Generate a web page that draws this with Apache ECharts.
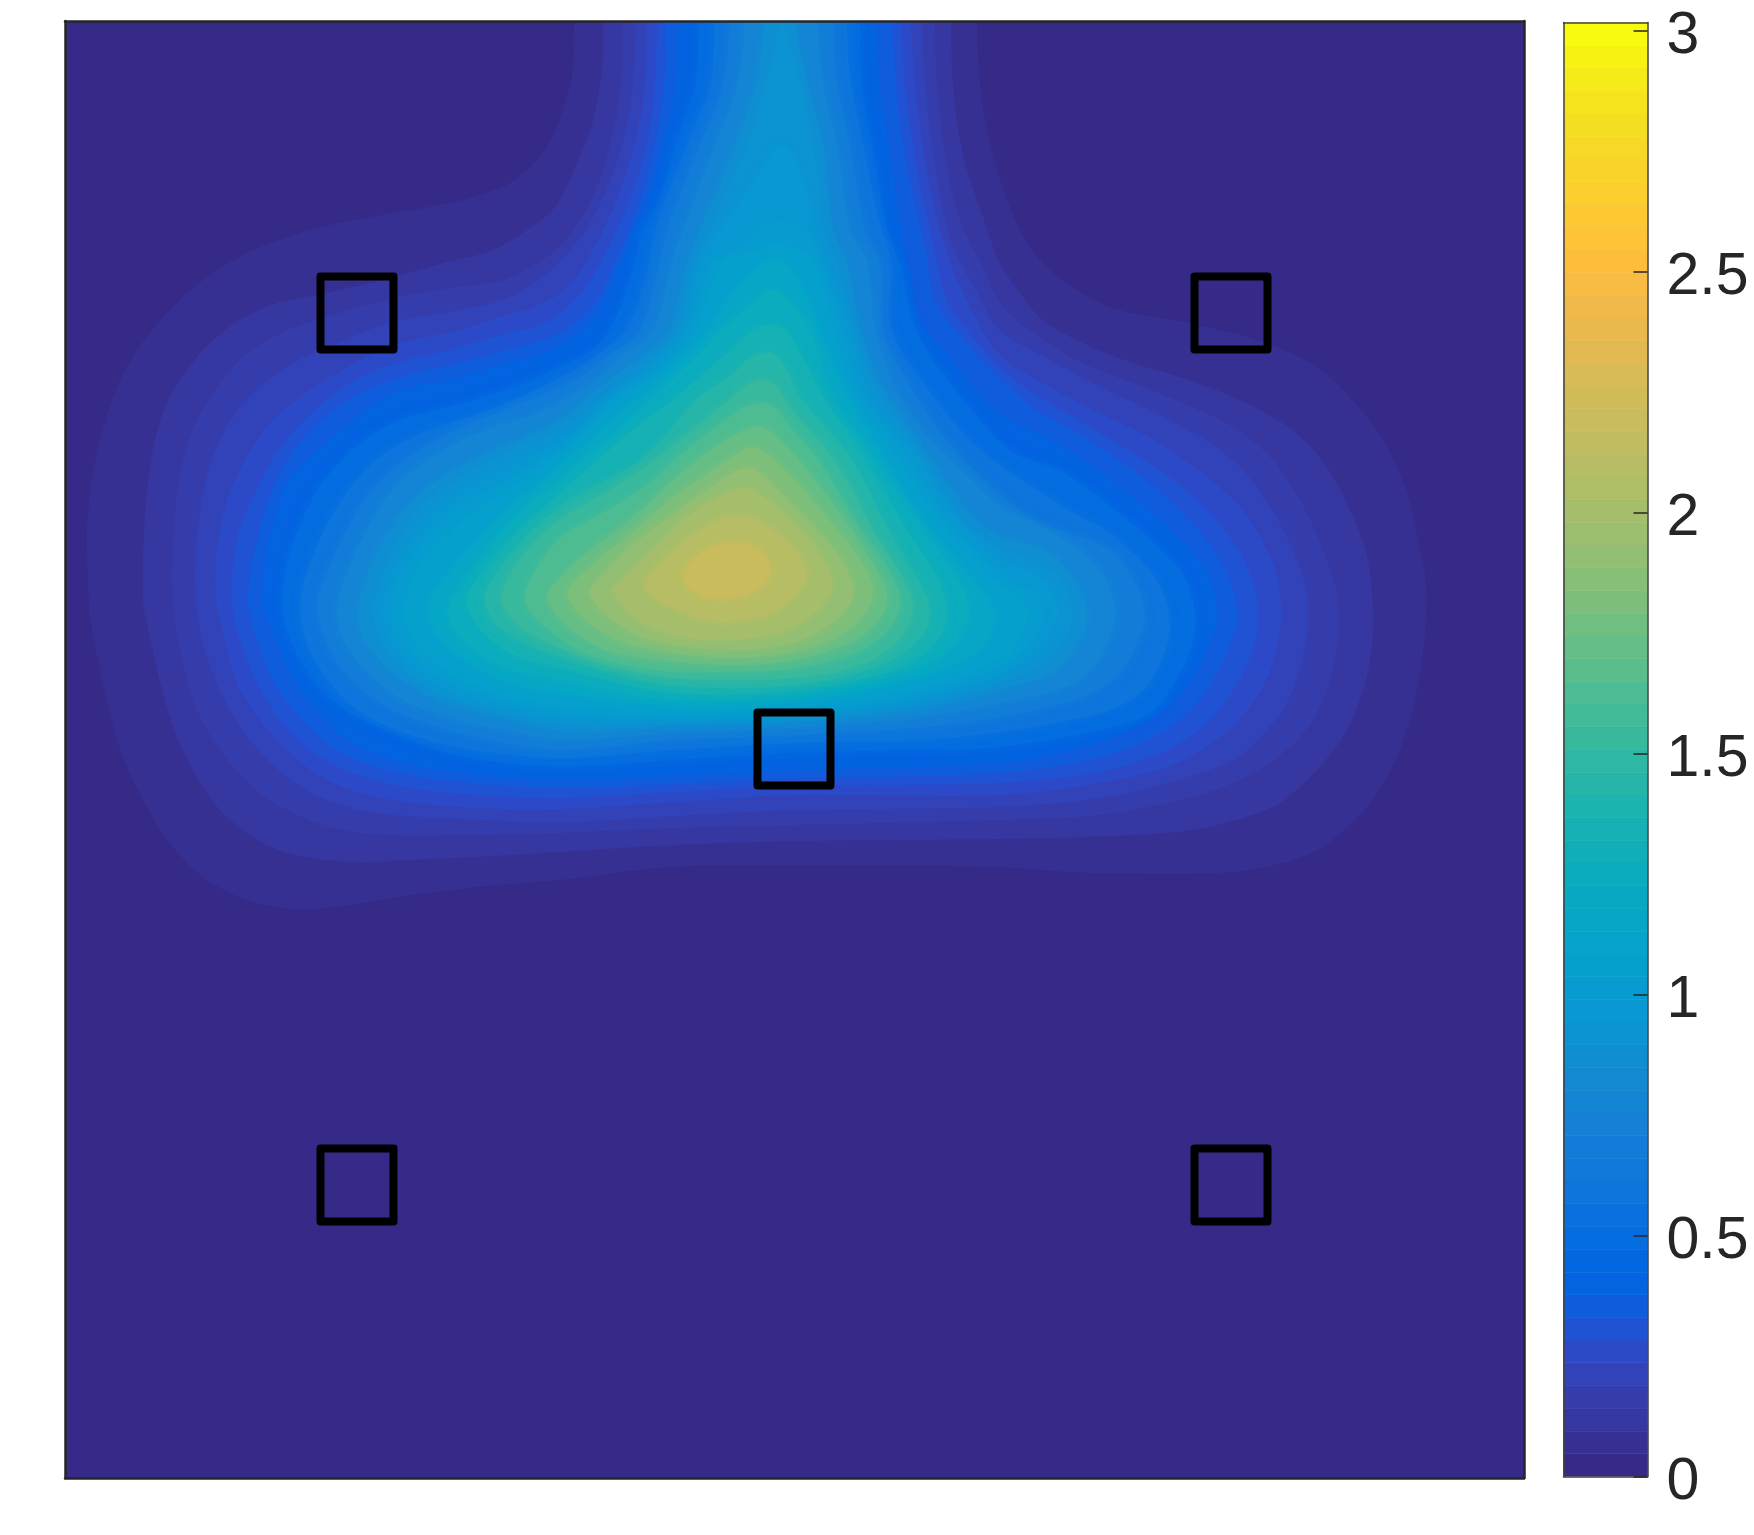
<!DOCTYPE html>
<html>
<head>
<meta charset="utf-8">
<style>html,body{margin:0;padding:0;background:#fff}#c{width:1754px;height:1535px}</style>
<script src="https://cdn.jsdelivr.net/npm/echarts@6/dist/echarts.min.js"></script>
</head>
<body>
<div id="c"></div>
<script>
// colour table of the colour bar (64 bands, bottom to top)
const palette = [[0.2081,0.1663,0.5292],[0.2116,0.1898,0.5777],[0.2123,0.2138,0.627],[0.2081,0.2386,0.6771],[0.1959,0.2645,0.7279],[0.1707,0.2919,0.7792],[0.1253,0.3242,0.8303],[0.0591,0.3598,0.8683],[0.0117,0.3875,0.882],[0.006,0.4086,0.8828],[0.0165,0.4266,0.8786],[0.0329,0.443,0.872],[0.0498,0.4586,0.8641],[0.0629,0.4737,0.8554],[0.0723,0.4887,0.8467],[0.0779,0.504,0.8384],[0.0793,0.52,0.8312],[0.0749,0.5375,0.8263],[0.0641,0.557,0.824],[0.0488,0.5772,0.8228],[0.0343,0.5966,0.8199],[0.0265,0.6137,0.8135],[0.0239,0.6287,0.8038],[0.0231,0.6418,0.7913],[0.0228,0.6535,0.7768],[0.0267,0.6642,0.7607],[0.0384,0.6743,0.7436],[0.059,0.6838,0.7254],[0.0843,0.6928,0.7062],[0.1133,0.7015,0.6859],[0.1453,0.7098,0.6646],[0.1801,0.7177,0.6424],[0.2178,0.725,0.6193],[0.2586,0.7317,0.5954],[0.3022,0.7376,0.5712],[0.3482,0.7424,0.5473],[0.3953,0.7459,0.5244],[0.442,0.7481,0.5033],[0.4871,0.7491,0.484],[0.53,0.7491,0.4661],[0.5709,0.7485,0.4494],[0.6099,0.7473,0.4337],[0.6473,0.7456,0.4188],[0.6834,0.7435,0.4044],[0.7184,0.7411,0.3905],[0.7525,0.7384,0.3768],[0.7858,0.7356,0.3633],[0.8185,0.7327,0.3498],[0.8507,0.7299,0.336],[0.8824,0.7274,0.3217],[0.9139,0.7258,0.3063],[0.945,0.7261,0.2886],[0.9739,0.7314,0.2666],[0.9938,0.7455,0.2403],[0.999,0.7653,0.2164],[0.9955,0.7861,0.1967],[0.988,0.8066,0.1794],[0.9789,0.8271,0.1633],[0.9697,0.8481,0.1475],[0.9626,0.8705,0.1309],[0.9589,0.8949,0.1132],[0.9598,0.9218,0.0948],[0.9661,0.9514,0.0755],[0.9763,0.9831,0.0538]];
const bandEdges = [0,.047,.094,.141,.189,.236,.283,.330,.377,.424,.471,.519,.566,.613,.660,.707,.754,.801,.849,.896,.943,.990,1.037,1.084,1.131,1.179,1.226,1.273,1.320,1.367,1.414,1.461,1.509,1.556,1.603,1.650,1.697,1.744,1.791,1.839,1.886,1.933,1.980,2.027,2.074,2.121,2.169,2.216,2.263,2.310,2.357,2.404,2.451,2.499,2.546,2.593,2.640,2.687,2.734,2.781,2.829,2.876,2.923,2.970,3.017];
const colorbarTicks = [0,0.5,1,1.5,2,2.5,3];

// square outlines on the field
const squareX = [292,1166,729,292,1166];
const squareY = [1165,1165,729,293,293];

// filled contours, one outline per colour band
const contour1 = [[509,1500],[509,1457],[508,1409],[500,1375],[487,1340],[470,1316],[445,1295],[415,1283],[380,1274],[328,1265],[278,1256],[228,1243],[182,1225],[138,1198],[102,1165],[72,1128],[52,1091],[35,1038],[25,985],[22,945],[23,895],[25,861],[38,795],[58,721],[82,671],[108,631],[142,598],[182,578],[228,569],[262,570],[328,580],[412,591],[495,598],[606,611],[740,613],[935,611],[1002,606],[1085,604],[1168,606],[1222,616],[1256,630],[1288,656],[1312,685],[1335,728],[1352,788],[1360,845],[1361,895],[1355,928],[1342,985],[1318,1038],[1285,1081],[1252,1111],[1212,1131],[1168,1145],[1118,1156],[1078,1163],[1045,1171],[1012,1188],[985,1208],[962,1235],[942,1278],[924,1340],[915,1392],[912,1457],[912,1500]];
const contour2 = [[538,1500],[538,1457],[537,1409],[528,1357],[511,1313],[490,1271],[462,1248],[428,1228],[378,1215],[328,1201],[262,1185],[212,1175],[178,1160],[145,1135],[122,1108],[102,1075],[90,1038],[83,995],[79,945],[78,878],[83,851],[95,795],[112,741],[135,695],[162,661],[202,633],[245,620],[295,616],[345,618],[412,621],[495,626],[610,633],[740,637],[935,639],[1018,641],[1102,645],[1152,653],[1208,671],[1235,691],[1258,715],[1278,741],[1295,778],[1305,818],[1308,861],[1303,918],[1288,961],[1268,1001],[1242,1035],[1208,1061],[1168,1081],[1118,1100],[1068,1115],[1018,1135],[978,1158],[955,1185],[935,1215],[917,1264],[898,1323],[888,1392],[886,1457],[886,1500]];
const contour3 = [[557,1500],[557,1457],[556,1392],[545,1333],[528,1282],[500,1237],[469,1213],[435,1197],[385,1190],[335,1181],[260,1161],[212,1143],[178,1121],[152,1091],[132,1058],[120,1025],[112,985],[108,928],[108,878],[115,828],[132,768],[155,728],[188,691],[228,665],[278,648],[328,643],[412,643],[495,645],[610,650],[730,653],[935,658],[1035,663],[1102,675],[1168,695],[1218,725],[1252,765],[1272,828],[1272,885],[1258,928],[1235,978],[1205,1021],[1168,1051],[1118,1075],[1068,1095],[1018,1115],[968,1145],[935,1175],[917,1213],[896,1254],[883,1306],[872,1392],[870,1457],[870,1500]];
const contour4 = [[571,1500],[571,1457],[568,1392],[559,1340],[542,1289],[518,1244],[487,1209],[445,1181],[395,1168],[325,1155],[268,1133],[228,1115],[195,1091],[168,1061],[148,1021],[137,978],[131,928],[131,878],[138,835],[158,781],[185,738],[222,701],[262,678],[312,665],[378,660],[495,656],[610,662],[730,668],[935,671],[1035,680],[1102,695],[1168,718],[1202,748],[1228,788],[1242,845],[1242,885],[1228,928],[1205,971],[1175,1011],[1135,1041],[1085,1068],[1035,1091],[985,1118],[935,1148],[910,1189],[886,1237],[872,1299],[860,1392],[857,1457],[857,1500]];
const contour5 = [[582,1500],[582,1457],[580,1392],[570,1335],[549,1271],[521,1216],[500,1188],[470,1172],[435,1161],[395,1148],[335,1135],[295,1118],[245,1088],[208,1058],[182,1021],[162,978],[152,928],[151,878],[158,845],[172,795],[195,758],[225,725],[262,698],[312,681],[395,671],[495,669],[610,676],[730,683],[935,683],[1035,695],[1102,711],[1152,738],[1185,771],[1208,815],[1216,861],[1212,901],[1202,928],[1178,968],[1142,1001],[1095,1035],[1035,1065],[985,1091],[935,1123],[896,1189],[876,1244],[862,1306],[850,1392],[846,1457],[846,1500]];
const contour6 = [[592,1500],[592,1457],[590,1392],[581,1330],[562,1271],[538,1220],[514,1182],[480,1155],[435,1143],[385,1128],[335,1116],[290,1098],[250,1068],[215,1030],[190,985],[172,938],[167,878],[175,838],[192,795],[215,758],[245,728],[288,705],[345,690],[412,683],[495,680],[610,686],[730,692],[935,695],[1035,706],[1102,728],[1142,755],[1168,788],[1188,828],[1193,861],[1188,895],[1175,925],[1148,961],[1108,998],[1058,1031],[1002,1065],[952,1096],[886,1170],[869,1230],[852,1306],[840,1392],[836,1457],[836,1500]];
const contour7 = [[601,1500],[601,1457],[599,1392],[590,1333],[573,1271],[552,1220],[530,1175],[495,1145],[435,1126],[385,1113],[335,1101],[290,1082],[245,1048],[215,1005],[195,950],[183,878],[192,838],[208,798],[235,761],[268,731],[312,711],[378,698],[495,690],[610,694],[730,700],[935,705],[1035,721],[1095,745],[1128,771],[1155,811],[1172,858],[1165,898],[1148,928],[1115,968],[1068,1008],[1012,1045],[958,1078],[874,1170],[860,1230],[843,1306],[831,1392],[828,1457],[828,1500]];
const contour8 = [[612,1500],[612,1457],[610,1392],[598,1333],[580,1271],[568,1248],[556,1215],[532,1165],[505,1140],[470,1122],[435,1113],[385,1098],[335,1088],[290,1060],[250,1025],[222,995],[205,945],[198,895],[198,870],[208,845],[225,805],[248,771],[282,738],[328,718],[395,705],[495,698],[610,702],[730,708],[935,715],[1018,731],[1085,758],[1122,791],[1142,828],[1152,861],[1145,901],[1128,925],[1092,961],[1042,1001],[992,1035],[935,1065],[885,1120],[855,1160],[843,1215],[830,1290],[815,1392],[812,1457],[812,1500]];
const contour10 = [[634,1500],[634,1457],[630,1392],[610,1333],[595,1280],[578,1248],[570,1215],[553,1165],[530,1130],[495,1112],[465,1098],[400,1075],[335,1058],[295,1035],[265,1005],[245,975],[225,925],[217,878],[223,845],[240,810],[270,775],[320,748],[395,722],[495,711],[610,718],[730,725],[850,728],[935,731],[1035,748],[1085,765],[1112,800],[1128,835],[1130,865],[1120,900],[1100,925],[1060,960],[1000,1005],[945,1028],[885,1095],[850,1150],[835,1215],[822,1248],[810,1320],[797,1392],[795,1457],[795,1500]];
const contour12 = [[650,1500],[650,1457],[645,1392],[622,1333],[590,1248],[584,1215],[565,1155],[535,1125],[490,1098],[430,1070],[370,1050],[320,1025],[285,990],[258,945],[240,900],[235,870],[240,840],[258,805],[290,770],[340,745],[410,728],[495,720],[610,728],[730,735],[850,738],[935,746],[1035,765],[1075,785],[1095,815],[1105,850],[1098,885],[1078,915],[1040,948],[1015,961],[915,1028],[858,1095],[827,1148],[826,1215],[812,1265],[798,1333],[785,1400],[782,1457],[782,1500]];
const contour14 = [[665,1500],[665,1457],[658,1392],[635,1333],[602,1248],[595,1215],[575,1148],[540,1120],[510,1098],[450,1072],[385,1045],[340,1018],[305,985],[278,940],[260,900],[252,875],[258,845],[275,812],[310,778],[360,755],[425,738],[495,728],[610,738],[730,743],[850,750],[935,761],[1020,782],[1055,805],[1072,835],[1080,862],[1070,895],[1045,928],[965,961],[890,1028],[843,1095],[818,1148],[815,1215],[800,1248],[785,1333],[772,1395],[768,1457],[768,1500]];
const contour16 = [[680,1500],[680,1457],[672,1392],[650,1333],[618,1248],[607,1215],[588,1148],[555,1120],[530,1098],[480,1068],[420,1048],[365,1020],[325,985],[298,940],[280,900],[272,868],[278,840],[300,808],[335,780],[385,760],[440,748],[495,738],[610,745],[730,750],[850,760],[935,775],[1010,795],[1035,820],[1048,850],[1050,868],[1040,900],[1015,928],[975,952],[935,972],[900,1005],[875,1028],[845,1065],[828,1095],[810,1148],[802,1215],[785,1248],[772,1333],[758,1395],[752,1457],[752,1500]];
const contour18 = [[700,1500],[700,1457],[690,1392],[670,1333],[635,1248],[622,1215],[605,1148],[575,1120],[545,1098],[495,1058],[460,1042],[395,1012],[350,980],[320,940],[300,895],[293,860],[305,830],[335,800],[380,775],[440,760],[495,748],[610,752],[730,756],[850,768],[935,788],[985,805],[1010,830],[1022,860],[1012,893],[985,925],[935,942],[908,961],[860,1028],[815,1095],[795,1148],[782,1215],[768,1248],[758,1333],[742,1395],[730,1457],[730,1500]];
const contour19 = [[716,1456],[708,1420],[695,1375],[683,1333],[645,1248],[630,1215],[612,1148],[585,1120],[555,1095],[495,1050],[450,1030],[395,1000],[355,970],[328,930],[310,885],[307,865],[318,830],[348,800],[395,776],[495,754],[610,755],[730,760],[850,773],[935,795],[978,815],[1000,840],[1008,865],[996,897],[972,915],[935,930],[895,961],[852,1028],[808,1095],[790,1148],[772,1215],[760,1248],[748,1333],[735,1395],[722,1444]];
const contour20 = [[716,1333],[705,1322],[682,1285],[655,1248],[635,1215],[618,1148],[590,1115],[570,1098],[540,1075],[505,1045],[445,1012],[395,985],[360,955],[335,920],[320,885],[317,860],[330,830],[360,800],[410,778],[450,768],[495,760],[610,758],[730,763],[850,778],[935,803],[970,825],[990,855],[993,868],[980,895],[960,908],[935,918],[890,961],[848,1028],[805,1081],[785,1148],[762,1215],[750,1248],[738,1300],[726,1326]];
const contour21 = [[715,1256],[695,1248],[665,1225],[646,1215],[624,1148],[595,1110],[548,1081],[510,1040],[450,1003],[395,970],[358,935],[335,900],[328,860],[342,830],[372,802],[420,782],[495,766],[610,761],[730,766],[850,783],[935,810],[962,832],[976,860],[970,885],[948,895],[935,905],[880,961],[838,1028],[797,1081],[778,1148],[755,1215],[738,1248]];
const contour22 = [[712,1233],[692,1226],[657,1215],[630,1148],[600,1112],[558,1081],[520,1048],[495,1025],[445,990],[395,955],[355,915],[340,875],[340,860],[355,830],[385,805],[430,785],[495,772],[610,765],[730,770],[850,788],[935,818],[955,840],[962,868],[955,880],[935,893],[872,961],[828,1028],[790,1081],[770,1148],[748,1215],[730,1229]];
const contour24 = [[708,1218],[690,1208],[665,1180],[643,1148],[610,1112],[575,1081],[535,1048],[495,1012],[450,975],[410,935],[378,898],[363,870],[375,840],[405,815],[445,795],[495,785],[610,772],[730,776],[850,800],[910,825],[930,860],[915,890],[855,961],[815,1028],[782,1081],[755,1148],[740,1185],[725,1210]];
const contour26 = [[706,1188],[690,1178],[657,1148],[625,1115],[590,1081],[552,1048],[495,1000],[450,962],[415,920],[390,885],[383,868],[395,840],[430,815],[495,797],[610,778],[730,783],[850,808],[890,835],[905,868],[895,895],[860,945],[805,1028],[768,1081],[745,1148],[735,1165],[720,1182]];
const contour28 = [[705,1153],[688,1148],[668,1130],[612,1081],[568,1048],[495,985],[455,950],[420,910],[402,878],[415,850],[445,825],[495,810],[610,785],[730,788],[830,808],[870,835],[882,865],[872,900],[840,950],[795,1028],[758,1081],[735,1125],[720,1148]];
const contour30 = [[703,1126],[685,1120],[665,1102],[635,1081],[578,1020],[530,992],[495,972],[455,935],[425,895],[420,875],[435,850],[470,830],[530,810],[610,792],[730,793],[815,812],[855,840],[865,868],[852,900],[825,945],[785,1020],[735,1081],[722,1108],[712,1122]];
const contour32 = [[700,1098],[682,1093],[668,1081],[592,1020],[540,985],[495,958],[460,925],[437,880],[455,852],[490,832],[545,812],[610,800],[730,800],[800,815],[835,840],[848,870],[838,900],[810,945],[768,1020],[725,1070],[712,1091]];
const contour34 = [[696,1075],[675,1068],[612,1020],[589,998],[555,975],[525,958],[495,940],[472,910],[460,878],[480,852],[520,825],[590,808],[658,806],[735,810],[790,825],[825,850],[835,878],[820,915],[795,950],[752,1020],[725,1050],[710,1070]];
const contour36 = [[692,1051],[670,1043],[635,1020],[602,992],[565,958],[525,928],[495,900],[482,880],[505,850],[550,825],[658,813],[730,818],[785,835],[815,860],[822,885],[805,920],[780,958],[732,1020],[715,1038],[703,1048]];
const contour38 = [[686,1031],[668,1022],[640,1003],[605,978],[570,948],[530,915],[503,885],[525,855],[568,832],[658,820],[725,825],[770,840],[800,865],[808,890],[790,925],[762,960],[735,992],[712,1016],[698,1027]];
const contour40 = [[682,1010],[662,1002],[642,988],[610,965],[570,935],[540,905],[525,885],[545,860],[585,838],[658,828],[720,833],[760,850],[785,875],[788,893],[772,925],[745,955],[720,980],[702,998],[692,1007]];
const contour42 = [[678,990],[652,980],[625,963],[590,930],[560,900],[548,888],[570,860],[608,843],[658,838],[715,845],[750,865],[768,893],[752,928],[725,958],[700,980],[688,987]];
const contour44 = [[672,963],[638,950],[605,925],[580,891],[612,868],[658,856],[712,868],[742,905],[712,945]];
const contour46 = [[668,936],[635,925],[618,901],[632,885],[658,879],[692,888],[706,908],[695,928]];

const contourBands = [1,2,3,4,5,6,7,8,10,12,14,16,18,19,20,21,22,24,26,28,30,32,34,36,38,40,42,44,46];
const contourLines = [contour1,contour2,contour3,contour4,contour5,contour6,contour7,contour8,contour10,contour12,contour14,contour16,contour18,contour19,contour20,contour21,contour22,contour24,contour26,contour28,contour30,contour32,contour34,contour36,contour38,contour40,contour42,contour44,contour46];

const rgb = c => 'rgb(' + c.map(v => Math.round(v * 255)).join(',') + ')';
const ink = '#262626';
const frame = (extra) => Object.assign({
  type: 'value', splitLine: {show: false}, axisTick: {show: false}, axisLabel: {show: false},
  axisLine: {show: true, onZero: false, lineStyle: {color: ink, width: 2.5}}, z: 10
}, extra);
const barLine = {show: true, onZero: false, lineStyle: {color: '#404040', width: 1.5}};

const chart = echarts.init(document.getElementById('c'), null, {renderer: 'canvas'});
chart.setOption({
  animation: false,
  backgroundColor: '#ffffff',
  grid: [
    {left: 65, top: 21, width: 1459, height: 1457, show: true, backgroundColor: rgb(palette[0]), borderWidth: 0},
    {left: 1563.5, top: 22.5, width: 84, height: 1454, show: false}
  ],
  xAxis: [
    frame({gridIndex: 0, position: 'bottom', min: 0, max: 1459}),
    frame({gridIndex: 0, position: 'top', min: 0, max: 1459}),
    frame({gridIndex: 1, position: 'bottom', min: 0, max: 1, axisLine: barLine}),
    frame({gridIndex: 1, position: 'top', min: 0, max: 1, axisLine: barLine})
  ],
  yAxis: [
    frame({gridIndex: 0, position: 'left', min: 0, max: 1457}),
    frame({gridIndex: 0, position: 'right', min: 0, max: 1457}),
    frame({gridIndex: 1, position: 'left', min: 0, max: 3.017, axisLine: barLine}),
    frame({gridIndex: 1, position: 'right', min: 0, max: 3.017, axisLine: barLine,
      axisTick: {show: true, inside: true, length: 14, customValues: colorbarTicks, lineStyle: {color: ink, width: 1.5}},
      axisLabel: {show: true, customValues: colorbarTicks, margin: 19, verticalAlign: 'top', lineHeight: 12, color: ink, fontSize: 59, fontFamily: 'Liberation Sans', formatter: v => String(v)}
    })
  ],
  series: [
    {
      type: 'custom', xAxisIndex: 0, yAxisIndex: 0, clip: true, silent: true, z: 2,
      data: contourBands.map((b, i) => [i, b]),
      renderItem: (params, api) => {
        const i = api.value(0), band = api.value(1);
        const fill = rgb(palette[band]);
        return {
          type: 'polygon',
          shape: {points: contourLines[i].map(p => api.coord(p)), smooth: 0.33},
          style: band >= 10
            ? {fill: fill, stroke: null, shadowBlur: 10, shadowColor: fill}
            : {fill: fill, stroke: null}
        };
      }
    },
    {
      type: 'custom', xAxisIndex: 2, yAxisIndex: 3, clip: true, silent: true, z: 2,
      data: bandEdges.slice(0, -1).map((e, i) => [i, e, bandEdges[i + 1]]),
      renderItem: (params, api) => {
        const i = api.value(0);
        const a = api.coord([0, api.value(1)]), b = api.coord([1, api.value(2)]);
        return {
          type: 'rect',
          shape: {x: a[0], y: b[1], width: b[0] - a[0], height: a[1] - b[1]},
          style: {fill: rgb(palette[i]), stroke: rgb(palette[i]), lineWidth: 0.6}
        };
      }
    },
    {
      type: 'scatter', xAxisIndex: 0, yAxisIndex: 0, silent: true, z: 5,
      symbol: 'rect', symbolSize: 73,
      itemStyle: {color: 'transparent', borderColor: '#000000', borderWidth: 8, borderJoin: 'round', opacity: 1},
      data: squareX.map((x, i) => [x, squareY[i]])
    }
  ]
});
</script>
</body>
</html>
